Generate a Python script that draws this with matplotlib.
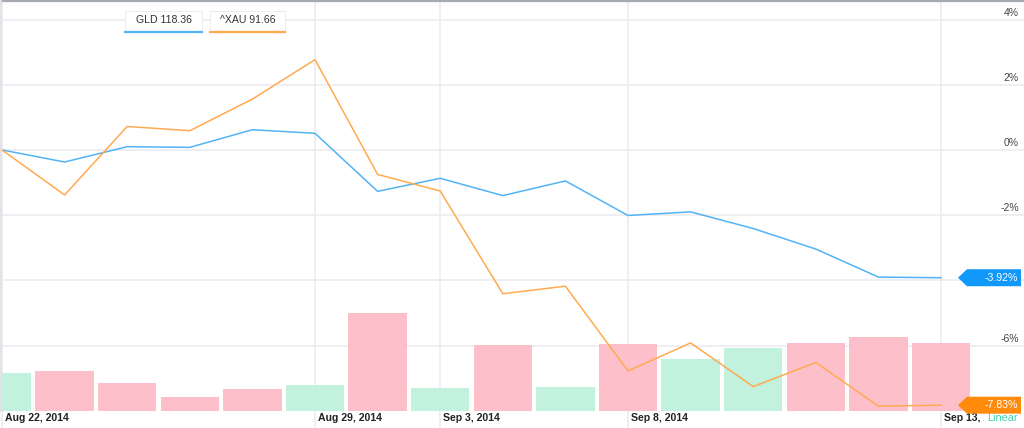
import matplotlib.pyplot as plt
from matplotlib.patches import Polygon, Rectangle
from matplotlib.transforms import Bbox

plt.rcParams['font.family'] = ['Liberation Sans', 'DejaVu Sans']

# trading days shown on the chart
dates = ['Aug 22, 2014', 'Aug 25, 2014', 'Aug 26, 2014', 'Aug 27, 2014', 'Aug 28, 2014',
         'Aug 29, 2014', 'Sep 2, 2014', 'Sep 3, 2014', 'Sep 4, 2014', 'Sep 5, 2014',
         'Sep 8, 2014', 'Sep 9, 2014', 'Sep 10, 2014', 'Sep 11, 2014', 'Sep 12, 2014',
         'Sep 13, 2014']
label_dates = ['Aug 22, 2014', 'Aug 29, 2014', 'Sep 3, 2014', 'Sep 8, 2014', 'Sep 13, 2014']

# percent change since Aug 22
gld_pct = [0, -0.37, 0.10, 0.08, 0.62, 0.51, -1.27, -0.87, -1.40, -0.95,
           -2.01, -1.90, -2.41, -3.04, -3.90, -3.92]
xau_pct = [0, -1.38, 0.72, 0.59, 1.56, 2.77, -0.75, -1.26, -4.41, -4.18,
           -6.78, -5.92, -7.26, -6.52, -7.86, -7.83]

# GLD volume (millions), up days drawn green
volume = [5.4, 5.7, 4.0, 2.0, 3.1, 3.7, 13.9, 3.3, 9.4, 3.4, 9.6, 7.4, 8.9, 9.7, 10.6, 9.7]
vol_up = [True, False, False, False, False, True, False, True, False, True,
          False, True, True, False, False, False]

legend_text = ['GLD 118.36', '^XAU 91.66']
y_ticks = [4, 2, 0, -2, -4, -6]

blue = '#52b4f5'
orange = '#ffaa50'
grid_c = '#ebebf0'

W, H = 1024, 428
fig = plt.figure(figsize=(W / 100, H / 100), dpi=100)
ax = fig.add_axes([0, 0, 1, 1])
px = 62.6
ax.set_xlim(-2 / px, (W - 2) / px)
ax.set_ylim(-8.53, 4.60)
ax.axis('off')

x = list(range(len(dates)))
last_vals = [gld_pct[-1], xau_pct[-1]]

# grid
for t in y_ticks:
    ax.axhline(t, color=grid_c, lw=1.1, zorder=0)
    # the value tag on the right hides the label next to it
    if any(abs(t - v) < 0.35 for v in last_vals):
        continue
    ax.annotate(f'{t}%', xy=(1, t), xycoords=('axes fraction', 'data'),
                xytext=(-5, 2), textcoords='offset pixels', ha='right', va='bottom',
                fontsize=7.5, color='#444444')
for d in label_dates:
    i = dates.index(d)
    ax.axvline(i, color=grid_c, lw=1.1, zorder=0)
    lab = ax.annotate(d, xy=(i, 0), xycoords=('data', 'axes fraction'),
                      xytext=(3, 10), textcoords='offset pixels', ha='left', va='center',
                      fontsize=7.6, fontweight='bold', color='#222222', zorder=5)
    lab.set_clip_box(Bbox([[0, 0], [984, H]]))
    lab.set_clip_on(True)

# volume bars along the bottom
base = -8.0
vol_scale = 7 / 32.6  # percent units per million shares
bar_colors = ['#bff1dd' if up else '#fdbdc7' for up in vol_up]
ax.bar(x, [v * vol_scale for v in volume], bottom=base, width=0.93,
       color=bar_colors, alpha=0.95, zorder=1)

ax.plot(x, gld_pct, color=blue, lw=1.1, zorder=3)
ax.plot(x, xau_pct, color=orange, lw=1.1, zorder=3)

# overlay in pixel coordinates for legend boxes and value tags
ov = fig.add_axes([0, 0, 1, 1])
ov.set_xlim(0, W)
ov.set_ylim(H, 0)
ov.axis('off')

ov.plot([0, W], [0.8, 0.8], color='#a6aab2', lw=1.6)
ov.plot([0.8, 0.8], [0, 411], color='#e2e2e8', lw=1.4)

for (x0, x1), txt, c in zip([(125, 202), (210, 285)], legend_text, [blue, orange]):
    ov.add_patch(Rectangle((x0, 11), x1 - x0, 21, fc='white', ec='#eeeeee', lw=0.8))
    ov.plot([x0, x1], [31.5, 31.5], color=c, lw=1.6)
    ov.text((x0 + x1) / 2, 20, txt, ha='center', va='center', fontsize=7.6, color='#333333')

for val, c in zip(last_vals, ['#1099fa', '#ff8a0c']):
    y = H - ax.transData.transform((0, val))[1]
    ov.add_patch(Polygon([(958, y), (967, y - 8.5), (1021, y - 8.5), (1021, y + 8.5),
                          (967, y + 8.5)], closed=True, fc=c, ec='none', zorder=6))
    ov.text(1018, y, f'{val:.2f}%', ha='right', va='center', fontsize=7.6,
            color='white', zorder=7)

ov.text(987, 418, 'Linear', ha='left', va='center', fontsize=7.8, color='#3dd3b0', zorder=8)

fig.savefig('out.png', dpi=100)
